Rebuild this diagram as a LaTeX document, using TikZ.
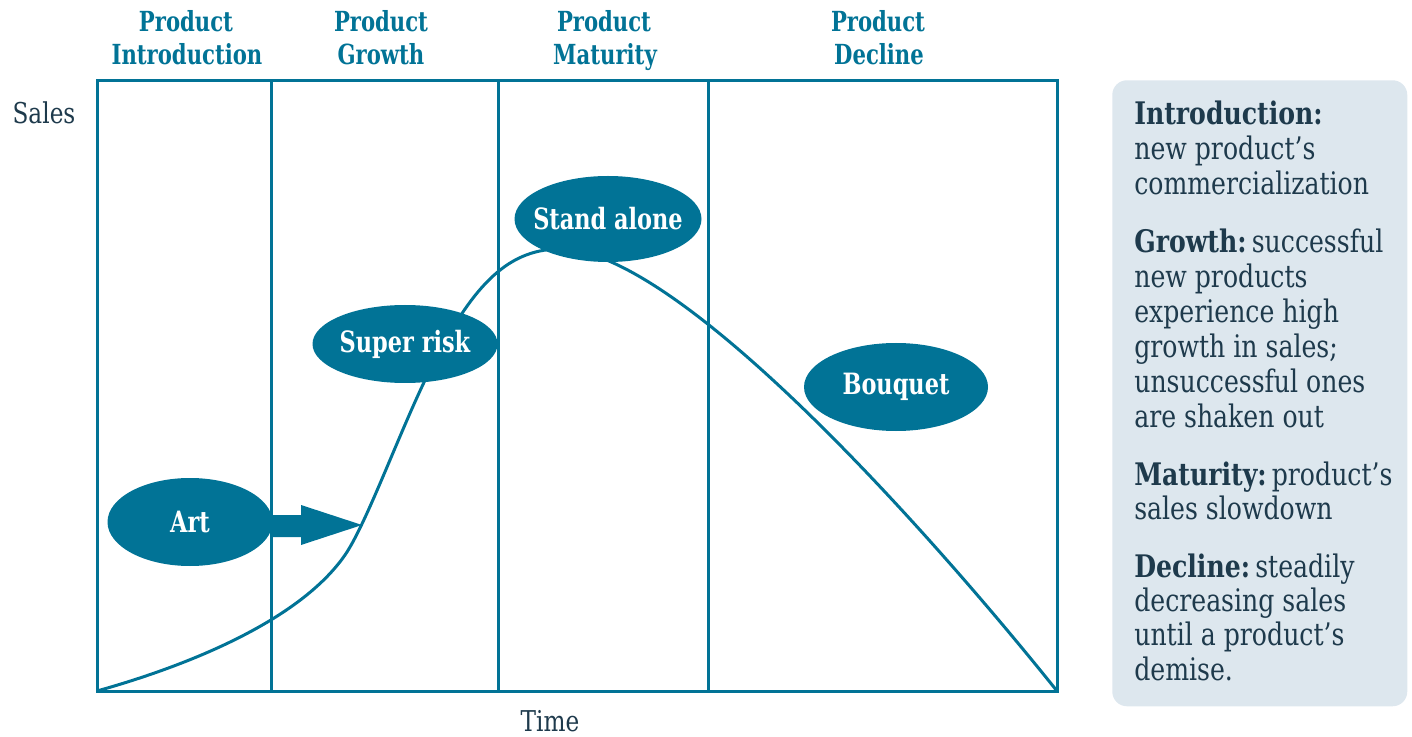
\documentclass[tikz,border=0pt]{standalone}
\usepackage{fontspec}
\usetikzlibrary{shapes.geometric}
\setmainfont{DejaVu Serif Condensed}
\newfontfamily\hdfam[FakeStretch=0.85]{DejaVu Serif Condensed}
\newfontfamily\txfam[FakeStretch=0.9]{DejaVu Serif Condensed}
\definecolor{teal1}{RGB}{1,115,150}
\definecolor{boxfill}{RGB}{221,231,238}
\definecolor{boxtext}{RGB}{30,58,76}
\newcommand\hdf{\hdfam\bfseries\fontsize{20.75}{25}\selectfont}
\newcommand\labf{\hdfam\bfseries\fontsize{22}{26}\selectfont}
\newcommand\axf{\txfam\fontsize{21.5}{25}\selectfont}
\newcommand\boxf{\txfam\fontsize{23.3}{28}\selectfont}
\tikzset{
  blob/.style={ellipse, fill=teal1, text=white, font=\labf, inner xsep=-14pt, inner ysep=0pt},
  hdtext/.style={anchor=base, text=teal1, font=\hdf, inner sep=0pt},
  axlabel/.style={anchor=base, text=boxtext, font=\axf, inner sep=0pt},
  boxline/.style={anchor=base west, inner sep=0pt, text=boxtext, font=\boxf},
  frameline/.style={draw=teal1, line width=2.25pt},
}
\begin{document}
\begin{tikzpicture}[x=0.75pt,y=-0.75pt]
\useasboundingbox (0,0) rectangle (1412,737);
% info box
\node[fill=boxfill, rounded corners=11pt, minimum width=221.25pt, minimum height=469.5pt, inner sep=0pt, anchor=north west] (infobox) at (1112,80) {};
% frame
\draw[frameline] (97,81) rectangle (1057,691);
\coordinate (d1t) at (271,81); \coordinate (d1b) at (271,691);
\coordinate (d2t) at (498,81); \coordinate (d2b) at (498,691);
\coordinate (d3t) at (708,81); \coordinate (d3b) at (708,691);
\draw[frameline] (d1t) -- (d1b);
\draw[frameline] (d2t) -- (d2b);
\draw[frameline] (d3t) -- (d3b);
% curve
\coordinate (c0) at (97,691);
\coordinate (c1) at (345,555);
\coordinate (c2) at (430,370);
\coordinate (c3) at (560,249);
\coordinate (c5) at (1057,691);
\draw[draw=teal1, line width=2.25pt, line join=round]
  (c0) .. controls (190,665) and (300,620) .. (c1)
       .. controls (367,523) and (400,430) .. (c2)
       .. controls (470,290) and (505,249) .. (c3)
       .. controls (680,249) and (937,541) .. (c5);
% headings
\node[hdtext] (h1a) at (186,32) {Product};
\node[hdtext] (h1b) at (187,65) {Introduction};
\node[hdtext] (h2a) at (381,32) {Product};
\node[hdtext] (h2b) at (381,65) {Growth};
\node[hdtext] (h3a) at (604,32) {Product};
\node[hdtext] (h3b) at (605,65) {Maturity};
\node[hdtext] (h4a) at (878,32) {Product};
\node[hdtext] (h4b) at (879,65) {Decline};
\node[axlabel] (sales) at (44,124) {Sales};
\node[axlabel] (time) at (550,731) {Time};
% ellipses
\node[blob, minimum width=123.75pt, minimum height=66pt] (art) at (190,522) {Art};
\node[blob, minimum width=138.75pt, minimum height=58.5pt] (super) at (405,344) {Super risk};
\node[blob, minimum width=140.25pt, minimum height=64.5pt] (stand) at (608,219) {Stand alone};
\node[blob, minimum width=138pt, minimum height=66pt] (bouquet) at (896,387) {Bouquet};
% arrow
\coordinate (tip) at (362,525);
\fill[teal1] (art.east) ++(-2,-7) -- (301,515) -- (301,505) -- (tip) -- (301,545) -- (301,537) -- (270,537) -- cycle;
% box text
\node[boxline] (l1) at (1134,125) {\bfseries Introduction:};
\node[boxline] (l2) at (1134,160) {new product’s};
\node[boxline] (l3) at (1134,194.5) {commercialization};
\node[boxline] (l4) at (1134,253) {\textbf{Growth:}\,successful};
\node[boxline] (l5) at (1134,288) {new products};
\node[boxline] (l6) at (1134,323) {experience high};
\node[boxline] (l7) at (1134,357.5) {growth in sales;};
\node[boxline] (l8) at (1134,392.5) {unsuccessful ones};
\node[boxline] (l9) at (1134,427) {are shaken out};
\node[boxline] (l10) at (1134,485) {\textbf{Maturity:}\,product’s};
\node[boxline] (l11) at (1134,519) {sales slowdown};
\node[boxline] (l12) at (1134,577) {\textbf{Decline:}\,steadily};
\node[boxline] (l13) at (1134,611) {decreasing sales};
\node[boxline] (l14) at (1134,645.5) {until a product’s};
\node[boxline] (l15) at (1134,680) {demise.};
\end{tikzpicture}
\end{document}
